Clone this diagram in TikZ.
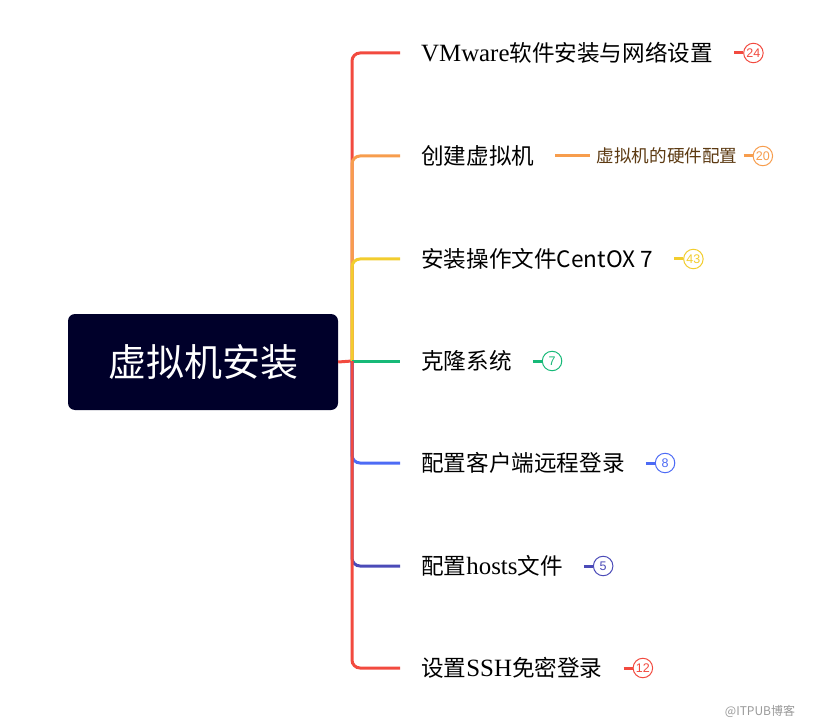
\documentclass[tikz,border=0pt]{standalone}
\usepackage{fontspec}
\setmainfont[Scale=1.1]{Liberation Serif}
\newfontfamily\cjk{Noto Sans CJK SC}
\newfontfamily\numfont{Liberation Sans}
\usepackage{tikz}
\usetikzlibrary{positioning}

\definecolor{rootbg}{HTML}{00002A}
\definecolor{cred}{HTML}{F24A3F}
\definecolor{corange}{HTML}{F79D4D}
\definecolor{cyellow}{HTML}{F2CD2E}
\definecolor{cgreen}{HTML}{17B978}
\definecolor{cblue}{HTML}{4D6BF5}
\definecolor{cindigo}{HTML}{4B4BB8}
\definecolor{subtext}{HTML}{5C3A12}

\begin{document}
\begin{tikzpicture}[x=1pt, y=-1pt,
    root/.style={%
      rectangle, fill=rootbg, rounded corners=7pt,
      minimum width=270pt, minimum height=96pt, text=white,
      font=\cjk\fontsize{38}{42}\selectfont
    },
    topic/.style={%
      anchor=west, inner xsep=21pt, inner ysep=2pt,
      font=\fontsize{22.6}{26}\selectfont
    },
    sub/.style={%
      inner xsep=6pt, inner ysep=2pt, text=subtext,
      font=\cjk\fontsize{17.6}{20}\selectfont
    },
    badge/.style={%
      circle, draw=#1, text=#1, line width=1pt, fill=white,
      minimum size=19.5pt, inner sep=0pt,
      font=\numfont\fontsize{12.5}{12.5}\selectfont
    },
    link/.style={line width=3pt, rounded corners=8pt},
    tick/.style={line width=3pt}
]
  \useasboundingbox (0,0) rectangle (816,727);

  % root and trunk
  \node[root] (root) at (203,362) {虚拟机安装};
  \coordinate (t) at (352,361);

  % topics
  \node[topic] (l1) at (400,53)  {VMware{\cjk 软件安装与网络设置}};
  \node[topic] (l2) at (400,156) {\cjk 创建虚拟机};
  \node[topic] (l3) at (400,259) {\cjk 安装操作文件CentOX 7};
  \node[topic] (l4) at (400,361) {\cjk 克隆系统};
  \node[topic] (l5) at (400,463) {\cjk 配置客户端远程登录};
  \node[topic] (l6) at (400,566) {{\cjk 配置}hosts{\cjk 文件}};
  \node[topic] (l7) at (400,668) {{\cjk 设置}SSH{\cjk 免密登录}};
  \node[sub, right=35pt of l2] (s2) {虚拟机的硬件配置};

  % badges
  \node[badge=cred,    right=9pt of l1] (b1) {24};
  \node[badge=corange, right=9pt of s2] (b2) {20};
  \node[badge=cyellow, right=9pt of l3] (b3) {43};
  \node[badge=cgreen,  right=9pt of l4] (b4) {7};
  \node[badge=cblue,   right=9pt of l5] (b5) {8};
  \node[badge=cindigo, right=9pt of l6] (b6) {5};
  \node[badge=cred,    right=9pt of l7] (b7) {12};

  % branches
  \draw[tick, cred] (root.east) -- (t);
  \draw[link, cred]    (t) |- (l1.west);
  \draw[link, corange] (t) |- (l2.west);
  \draw[link, cyellow] (t) |- (l3.west);
  \draw[link, cgreen]  (t) -- (l4.west);
  \draw[link, cblue]   (t) |- (l5.west);
  \draw[link, cindigo] (t) |- (l6.west);
  \draw[link, cred]    (t) |- (l7.west);
  \draw[tick, corange] (l2.east) -- (s2.west);

  % badge ticks
  \draw[tick, cred]    (l1.east) -- (b1.west);
  \draw[tick, corange] (s2.east) -- (b2.west);
  \draw[tick, cyellow] (l3.east) -- (b3.west);
  \draw[tick, cgreen]  (l4.east) -- (b4.west);
  \draw[tick, cblue]   (l5.east) -- (b5.west);
  \draw[tick, cindigo] (l6.east) -- (b6.west);
  \draw[tick, cred]    (l7.east) -- (b7.west);

  \node[text=black!40, font=\cjk\fontsize{12}{12}\selectfont] (wm) at (760,711) {@ITPUB博客};
\end{tikzpicture}
\end{document}
